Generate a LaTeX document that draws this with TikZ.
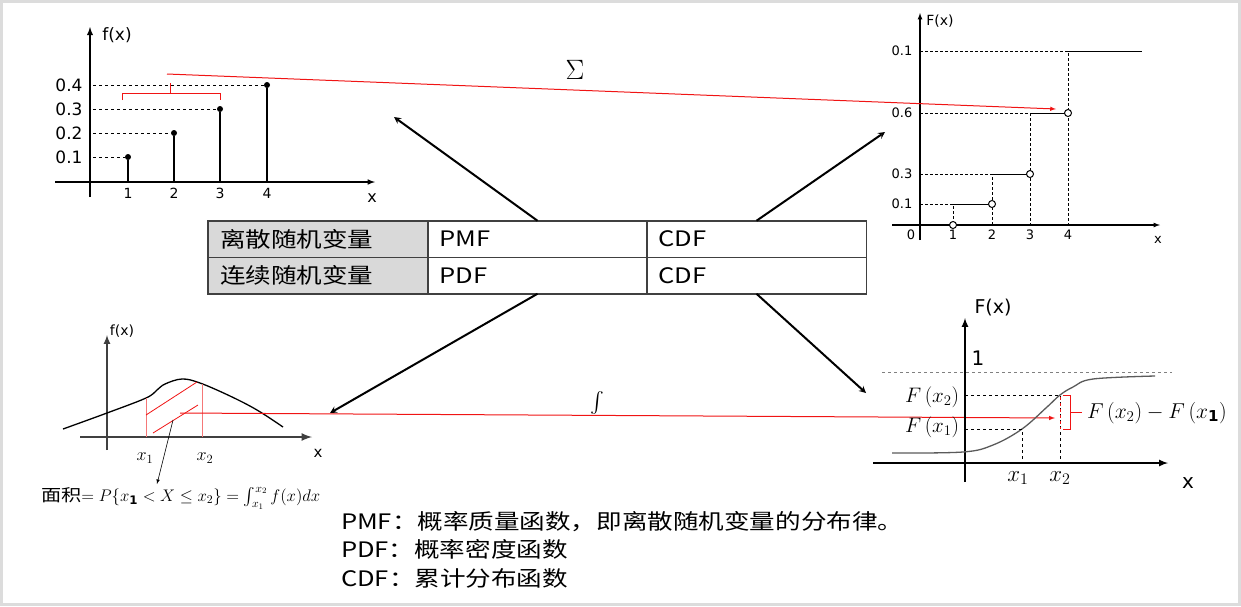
\RequirePackage{fix-cm}
\documentclass[tikz,border=0pt]{standalone}
\usepackage{fontspec}
\usepackage{amsmath}
\usepackage{tikz}
\usetikzlibrary{arrows,positioning,calc}
\setmainfont{DejaVu Sans}
\newfontfamily\cjk{Noto Sans CJK SC}[FakeStretch=1.2]
\definecolor{red}{RGB}{240, 20, 20}
\definecolor{lightred}{RGB}{245, 120, 120}
\definecolor{cellgray}{RGB}{217, 217, 217}
\definecolor{framegray}{RGB}{220, 220, 220}
\definecolor{tabgray}{RGB}{64, 64, 64}
\definecolor{curvegray}{RGB}{90, 90, 90}

\begin{document}
\begin{tikzpicture}[x=1pt, y=-1pt, >=latex,
  every node/.style={inner sep=1pt, outer sep=0pt},
  cell/.style={draw=tabgray, line width=1.5pt, minimum height=36.5pt, text width=196pt,
    inner xsep=12pt, inner ysep=0pt, align=left, font=\cjk\fontsize{21.3}{24}\selectfont},
  bigarrow/.style={->, >=stealth, line width=2pt},
  redarrow/.style={->, red, line width=1pt},
  dot/.style={circle, fill=black, inner sep=0pt, minimum size=6pt},
  hole/.style={circle, draw=black, fill=white, line width=1pt, inner sep=0pt, minimum size=7pt},
  note/.style={anchor=west, inner sep=0pt, font=\cjk\fontsize{21.3}{24}\selectfont}]
\useasboundingbox (0,0) rectangle (1241,606);
\draw[framegray, line width=3pt] (1.5,1.5) rectangle (1239.5,604.5);

% Table in the middle
\node[cell, fill=cellgray] (r1c1) at (318,239) {离散随机变量};
\node[cell] (r1c2) at (537.5,239) {PMF};
\node[cell] (r1c3) at (756.5,239) {CDF};
\node[cell, fill=cellgray] (r2c1) at (318,275.5) {连续随机变量};
\node[cell] (r2c2) at (537.5,275.5) {PDF};
\node[cell] (r2c3) at (756.5,275.5) {CDF};

% Top left: PMF
\draw[->, line width=1.8pt] (90,197) -- (90,27);
\draw[->, line width=1.5pt] (55,182) -- (375,182);
\node (fx1) at (117,35) {\fontsize{17}{17}\selectfont f(x)};
\node (xa1) at (372,198) {\fontsize{16}{16}\selectfont x};
\foreach \x/\y/\t [count=\i] in {128/157/0.1, 174/133/0.2, 220/109/0.3, 267/85/0.4}{
  \node[dot] (d\i) at (\x,\y) {};
  \draw[dashed, line width=1pt] (93,\y) -- (d\i);
  \draw[line width=1.6pt] (\x,182) -- (d\i);
  \node (py\i) at (69,\y) {\fontsize{17}{17}\selectfont\t};
  \node (px\i) at (\x,193) {\fontsize{14}{14}\selectfont\i};
}
\draw[red, line width=0.8pt] (122,100) -- (122,93) -- (220,93) -- (220,100);
\draw[red, line width=0.8pt] (170,93) -- (170,83);

% Top right: CDF of the discrete variable
\draw[->, line width=1.2pt] (920,240) -- (920,13);
\draw[->, line width=1.2pt] (892,225) -- (1160,225);
\node (Fx1) at (940,21) {\fontsize{14}{14}\selectfont F(x)};
\node (xa2) at (1158,240) {\fontsize{13}{13}\selectfont x};
\node (zero) at (911,235) {\fontsize{13}{13}\selectfont 0};
\foreach \x [count=\i] in {953,992,1030,1068}
  \node (qx\i) at (\x,235) {\fontsize{13}{13}\selectfont\i};
\foreach \y/\t [count=\i] in {51/0.1, 113/0.6, 174/0.3, 204/0.1}
  \node (qy\i) at (902,\y) {\fontsize{13}{13}\selectfont\t};
\draw[densely dashed, line width=0.6pt] (920,204) -- (953,204) -- (953,225);
\draw[densely dashed, line width=0.6pt] (920,174) -- (992,174) -- (992,225);
\draw[densely dashed, line width=1pt] (920,113) -- (1030,113) -- (1030,225);
\draw[densely dashed, line width=0.6pt] (920,51) -- (1068,51) -- (1068,225);
\draw[line width=0.8pt] (953,204) -- (992,204);
\draw[line width=0.8pt] (992,174) -- (1030,174);
\draw[line width=0.8pt] (1030,113) -- (1068,113);
\draw[line width=0.8pt] (1068,51) -- (1142,51);
\node[hole] (o1) at (953,225) {};
\node[hole] (o2) at (992,204) {};
\node[hole] (o3) at (1030,174) {};
\node[hole] (o4) at (1068,113) {};

% Sum: from the PMF to the CDF
\coordinate (sumfrom) at (167,74);
\coordinate (sumto) at (1056,109);
\draw[redarrow] (sumfrom) -- (sumto);
\node (sum) at (575,70) {\fontsize{28}{28}\selectfont$\Sigma$};

% Bottom left: PDF
\draw[->, line width=2pt, tabgray] (107,450) -- (107,335);
\draw[->, line width=2.5pt, tabgray] (80,437) -- (312,437);
\node (fx2) at (122,331) {\fontsize{14}{14}\selectfont f(x)};
\node (xa3) at (318,453) {\fontsize{15}{15}\selectfont x};
\draw[line width=1.3pt] plot[smooth, tension=0.6] coordinates {(63,429) (107,413) (146,398)
  (157,390) (165,384) (182,379) (200,383) (230,396) (257,410) (283,427)};
\draw[lightred, line width=1pt] (146,437) -- (146,398);
\draw[lightred, line width=1pt] (202,437) -- (202,384);
\draw[red, line width=0.8pt] (146,415) -- (197,382);
\draw[red, line width=0.8pt] (153,433) -- (198,405);
\node (xl1) at (145,458) {\fontsize{18}{18}\selectfont$x_1$};
\node (xl2) at (205,458) {\fontsize{18}{18}\selectfont$x_2$};
\coordinate (hatch) at (173,420);
\node[anchor=west] (area) at (40,498) {\fontsize{16.8}{17}\selectfont{\cjk 面积}$=P\{x_{\mathbf{1}}<X\leq x_2\}=\int_{x_1}^{x_2}f(x)dx$};
\draw[->, line width=0.6pt] (hatch) -- (157,484);

% Integral: from the PDF to the CDF
\coordinate (intfrom) at (180,413);
\coordinate (intto) at (1055,418);
\draw[redarrow] (intfrom) -- (intto);
\node (intg) at (597,403) {\fontsize{20}{20}\selectfont$\int$};

% Bottom right: CDF of the continuous variable
\draw[->, line width=2pt] (965,482) -- (965,318);
\draw[->, line width=2pt] (873,463) -- (1168,463);
\node (Fx2) at (993,308) {\fontsize{19}{19}\selectfont F(x)};
\node (one) at (978,358) {\fontsize{20}{20}\selectfont 1};
\node (xa4) at (1188,483) {\fontsize{20}{20}\selectfont x};
\draw[gray, dashed, line width=1pt] (882,372) -- (1172,372);
\draw[curvegray, line width=1.3pt] plot[smooth, tension=0.6] coordinates {(892,453) (963,452)
  (993,445) (1022,429) (1047,407) (1060,395) (1073,387) (1093,379) (1155,376)};
\draw[dashed, line width=0.7pt] (965,395) -- (1060,395) -- (1060,463);
\draw[dashed, line width=0.7pt] (965,429) -- (1022,429) -- (1022,463);
\draw[red, dashed, line width=0.8pt] (1060,397) -- (1060,429);
\draw[red, line width=0.8pt] (1063,395) -- (1070,395) -- (1070,429) -- (1063,429);
\draw[red, line width=0.8pt] (1070,412) -- (1082,412);
\node[anchor=east] (Fv2) at (960,397) {\fontsize{21}{21}\selectfont$F\,(x_2)$};
\node[anchor=east] (Fv1) at (960,427) {\fontsize{21}{21}\selectfont$F\,(x_1)$};
\node[anchor=west] (Fdiff) at (1086,413) {\fontsize{21.5}{21.5}\selectfont$F\,(x_2)-F\,(x_{\mathbf{1}})$};
\node (xr1) at (1018,478) {\fontsize{23}{23}\selectfont$x_1$};
\node (xr2) at (1060,478) {\fontsize{23}{23}\selectfont$x_2$};

% Arrows from the table to the four plots
\coordinate (tlend) at (394,117);
\coordinate (trend) at (885,132);
\coordinate (blend) at (330,413);
\coordinate (brend) at (866,393);
\draw[bigarrow] (r1c2.north) -- (tlend);
\draw[bigarrow] (r1c3.north) -- (trend);
\draw[bigarrow] (r2c2.south) -- (blend);
\draw[bigarrow] (r2c3.south) -- (brend);

% Notes below
\node[note] (n1) at (341,522) {PMF：概率质量函数，即离散随机变量的分布律。};
\node[note] (n2) at (341,549) {PDF：概率密度函数};
\node[note] (n3) at (341,578) {CDF：累计分布函数};
\end{tikzpicture}
\end{document}
